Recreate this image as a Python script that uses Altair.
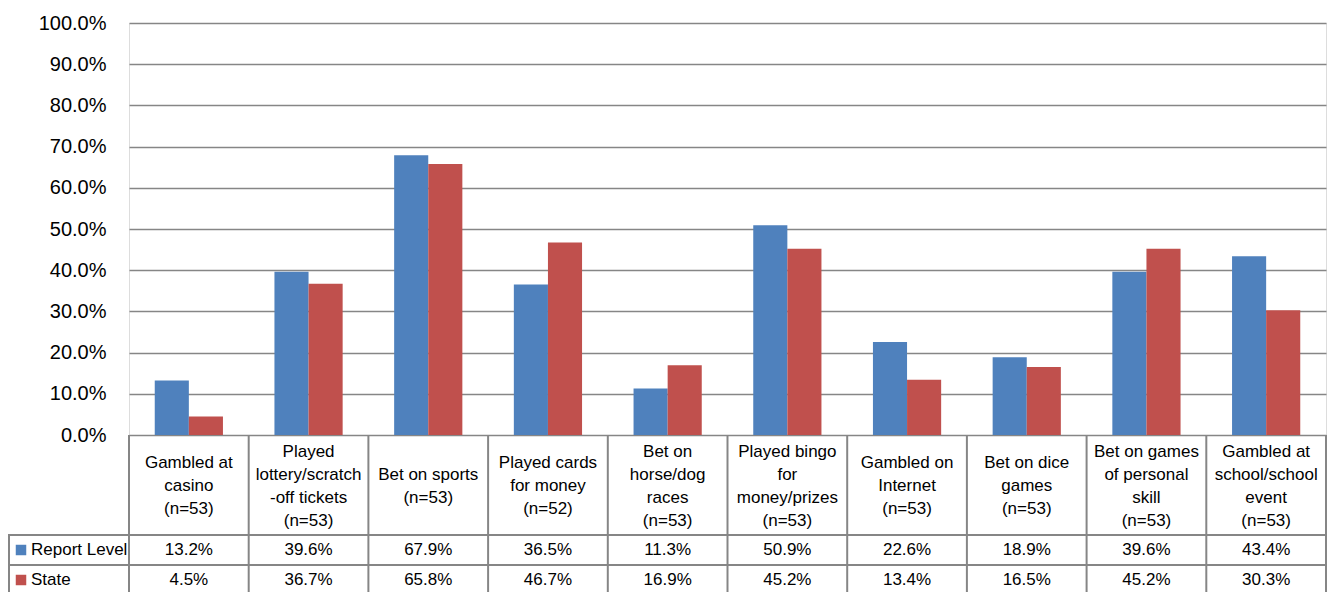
import altair as alt
import pandas as pd

categories = [
    "Gambled at casino", "Played lottery/scratch-off tickets", "Bet on sports",
    "Played cards for money", "Bet on horse/dog races", "Played bingo for money/prizes",
    "Gambled on Internet", "Bet on dice games", "Bet on games of personal skill",
    "Gambled at school/school event",
]
table_labels = [
    "Gambled at\ncasino\n(n=53)",
    "Played\nlottery/scratch\n-off tickets\n(n=53)",
    "Bet on sports\n(n=53)",
    "Played cards\nfor money\n(n=52)",
    "Bet on\nhorse/dog\nraces\n(n=53)",
    "Played bingo\nfor\nmoney/prizes\n(n=53)",
    "Gambled on\nInternet\n(n=53)",
    "Bet on dice\ngames\n(n=53)",
    "Bet on games\nof personal\nskill\n(n=53)",
    "Gambled at\nschool/school\nevent\n(n=53)",
]
series = ["Report Level", "State"]
report_level = [13.2, 39.6, 67.9, 36.5, 11.3, 50.9, 22.6, 18.9, 39.6, 43.4]
state = [4.5, 36.7, 65.8, 46.7, 16.9, 45.2, 13.4, 16.5, 45.2, 30.3]
colors = ["#4F81BD", "#C0504D"]
y_ticks = [i / 10 for i in range(11)]

FONT = "Liberation Sans, Arial, sans-serif"
GRID = "#868686"
W, H = 1197, 412
LH = 23

long_df = pd.DataFrame({
    "cat": categories * 2,
    "series": [series[0]] * len(categories) + [series[1]] * len(categories),
    "value": [v / 100 for v in report_level] + [v / 100 for v in state],
})
wide_df = pd.DataFrame({
    "cat": categories,
    "label": table_labels,
    "nlines": [t.count("\n") + 1 for t in table_labels],
    "rep": [f"{v:.1f}%" for v in report_level],
    "st": [f"{v:.1f}%" for v in state],
})
legend_df = pd.DataFrame({"series": series, "color": colors})

xscale = alt.Scale(domain=categories, paddingInner=0, paddingOuter=0)
X = alt.X("cat:N", sort=categories, scale=xscale, axis=None)
XC = alt.X("cat:N", sort=categories, scale=xscale, axis=None, bandPosition=0.5)

bars = alt.Chart(long_df).mark_bar().encode(
    x=X,
    xOffset=alt.XOffset("series:N", sort=series,
                        scale=alt.Scale(domain=series, paddingInner=0, paddingOuter=0.755)),
    y=alt.Y("value:Q", scale=alt.Scale(domain=[0, 1]),
            axis=alt.Axis(format=".1%", values=y_ticks, title=None, ticks=False,
                          domain=False, labelFont=FONT, labelFontSize=20,
                          labelColor="#000000", labelPadding=23,
                          grid=True, gridColor=GRID, gridWidth=1.5)),
    color=alt.Color("series:N", scale=alt.Scale(domain=series, range=colors), legend=None),
)

# first line of each multi-line label is placed so the whole block is centred in the row
label_text = alt.Chart(wide_df).mark_text(
    font=FONT, fontSize=17, lineBreak="\n", lineHeight=LH, baseline="middle", color="#000000"
).encode(
    x=XC,
    y=alt.Y("nlines:Q", scale=alt.Scale(domain=[1, 4], range=[H + 51, H + 51 - 3 * LH / 2]),
            axis=None),
    text="label:N",
)

rep_text = alt.Chart(wide_df).mark_text(
    font=FONT, fontSize=17, baseline="middle", color="#000000"
).encode(x=XC, y=alt.value(H + 115), text="rep:N")

st_text = alt.Chart(wide_df).mark_text(
    font=FONT, fontSize=17, baseline="middle", color="#000000"
).encode(x=XC, y=alt.value(H + 145), text="st:N")

vlines = alt.Chart(wide_df).mark_rule(color=GRID, strokeWidth=2).encode(
    x=alt.X("cat:N", sort=categories, scale=xscale, axis=None, bandPosition=0),
    y=alt.value(H), y2=alt.value(H + 200),
)
one = legend_df.head(1)
right_line = alt.Chart(one).mark_rule(color=GRID, strokeWidth=2).encode(
    x=alt.value(W), y=alt.value(H), y2=alt.value(H + 200))
left_line = alt.Chart(one).mark_rule(color=GRID, strokeWidth=2).encode(
    x=alt.value(-120), y=alt.value(H + 100), y2=alt.value(H + 200))
hline1 = alt.Chart(one).mark_rule(color=GRID, strokeWidth=2).encode(
    x=alt.value(-121), x2=alt.value(W), y=alt.value(H + 100))
hline2 = alt.Chart(one).mark_rule(color=GRID, strokeWidth=2).encode(
    x=alt.value(-121), x2=alt.value(W), y=alt.value(H + 130))

row_scale = alt.Scale(domain=series, range=[H + 115, H + 145], padding=0)
leg_sq = alt.Chart(legend_df).mark_square(size=110, opacity=1).encode(
    x=alt.value(-108),
    y=alt.Y("series:N", sort=series, scale=row_scale, axis=None),
    color=alt.Color("series:N", scale=alt.Scale(domain=series, range=colors), legend=None),
)
leg_txt = alt.Chart(legend_df).mark_text(
    font=FONT, fontSize=17, align="left", baseline="middle", color="#000000"
).encode(
    x=alt.value(-98),
    y=alt.Y("series:N", sort=series, scale=row_scale, axis=None),
    text="series:N",
)

chart = alt.layer(
    bars, vlines, right_line, left_line, hline1, hline2,
    label_text, rep_text, st_text, leg_sq, leg_txt,
).resolve_scale(y="independent").properties(
    width=W, height=H,
    autosize=alt.AutoSizeParams(type="none"),
    padding={"left": 121, "top": 15, "right": 1, "bottom": 157},
).configure_view(stroke=GRID, strokeWidth=2).configure(background="#ffffff")

chart.save("out.html", embed_options={"renderer": "svg", "actions": False})
